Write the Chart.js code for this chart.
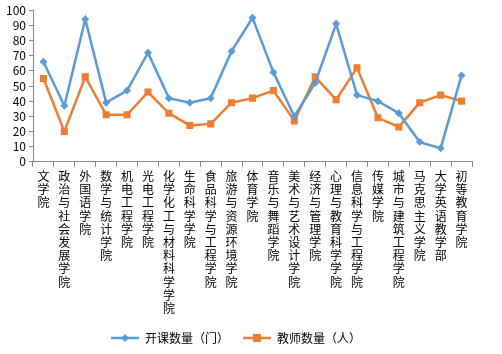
<!DOCTYPE html>
<html>
<head>
<meta charset="utf-8">
<script src="https://cdn.jsdelivr.net/npm/chart.js@4/dist/chart.umd.min.js"></script>
<style>
  html, body { margin: 0; padding: 0; background: #fff; }
  #wrap { width: 502px; height: 354px; }
</style>
</head>
<body>
<div id="wrap"><canvas id="myChart"></canvas></div>
<script>
const colleges = ['文学院', '政治与社会发展学院', '外国语学院', '数学与统计学院', '机电工程学院', '光电工程学院',
  '化学化工与材料科学学院', '生命科学学院', '食品科学与工程学院', '旅游与资源环境学院', '体育学院',
  '音乐与舞蹈学院', '美术与艺术设计学院', '经济与管理学院', '心理与教育科学学院', '信息科学与工程学院',
  '传媒学院', '城市与建筑工程学院', '马克思主义学院', '大学英语教学部', '初等教育学院'];
const courseCount = [66, 37, 94, 39, 47, 72, 42, 39, 42, 73, 95, 59, 30, 52, 91, 44, 40, 32, 13, 9, 57];
const teacherCount = [55, 20, 56, 31, 31, 46, 32, 24, 25, 39, 42, 47, 27, 56, 41, 62, 29, 23, 39, 44, 40];
const yTicks = [0, 10, 20, 30, 40, 50, 60, 70, 80, 90, 100];

const blue = '#5B9BD5';
const orange = '#ED7D31';
const fontFamily = '"Noto Sans CJK SC", "Noto Sans", sans-serif';

// legend icon: short line with the marker in the middle
function legendIcon(color, shape) {
    const c = document.createElement('canvas');
    c.width = 28; c.height = 10;
    const g = c.getContext('2d');
    g.strokeStyle = color;
    g.lineWidth = 2.5;
    g.beginPath(); g.moveTo(0, 5); g.lineTo(28, 5); g.stroke();
    g.fillStyle = color;
    if (shape === 'diamond') {
        g.beginPath(); g.moveTo(14, 1); g.lineTo(18, 5); g.lineTo(14, 9); g.lineTo(10, 5); g.closePath(); g.fill();
    } else {
        g.fillRect(10, 1, 8, 8);
    }
    return c;
}

new Chart(document.getElementById('myChart'), {
    type: 'line',
    data: {
        labels: colleges.map(s => s.split('')),
        datasets: [
            {
                label: '开课数量（门）',
                data: courseCount,
                borderColor: blue,
                backgroundColor: blue,
                borderWidth: 2.5,
                pointStyle: 'rectRot',
                pointRadius: 4,
                pointBorderWidth: 0,
                tension: 0
            },
            {
                label: '教师数量（人）',
                data: teacherCount,
                borderColor: orange,
                backgroundColor: orange,
                borderWidth: 2.5,
                pointStyle: 'rect',
                pointRadius: 5,
                pointBorderWidth: 0,
                tension: 0
            }
        ]
    },
    options: {
        responsive: true,
        maintainAspectRatio: false,
        animation: false,
        layout: { padding: { top: 6, right: 30, left: 0, bottom: 0 } },
        plugins: {
            legend: {
                position: 'bottom',
                labels: {
                    usePointStyle: true,
                    pointStyleWidth: 28,
                    color: '#000',
                    padding: 14,
                    font: { family: fontFamily, size: 12 },
                    generateLabels: function(chart) {
                        return chart.data.datasets.map((ds, i) => ({
                            text: ds.label,
                            datasetIndex: i,
                            pointStyle: legendIcon(ds.borderColor, i === 0 ? 'diamond' : 'square'),
                            fontColor: '#000',
                            lineWidth: 0,
                            hidden: false
                        }));
                    }
                }
            },
            tooltip: { enabled: false }
        },
        scales: {
            x: {
                offset: true,
                grid: {
                    display: true,
                    drawOnChartArea: false,
                    offset: true,
                    tickLength: 5,
                    color: '#868686'
                },
                border: { color: '#868686', width: 1 },
                ticks: {
                    color: '#000',
                    maxRotation: 0,
                    minRotation: 0,
                    autoSkip: false,
                    padding: 3,
                    font: { family: fontFamily, size: 12, lineHeight: 1.1 }
                }
            },
            y: {
                min: 0,
                max: 100,
                afterBuildTicks: function(scale) {
                    scale.ticks = yTicks.map(v => ({ value: v }));
                },
                afterFit: function(scale) {
                    scale.width = 33;
                },
                grid: {
                    display: true,
                    drawOnChartArea: false,
                    tickLength: 4,
                    color: '#868686'
                },
                border: { color: '#868686', width: 1 },
                ticks: {
                    color: '#000',
                    autoSkip: false,
                    padding: 3,
                    font: { family: fontFamily, size: 12 }
                }
            }
        }
    }
});
</script>
</body>
</html>
